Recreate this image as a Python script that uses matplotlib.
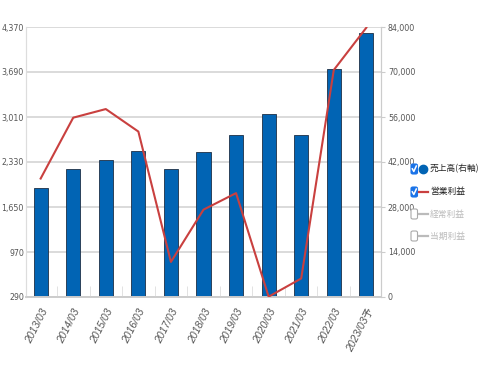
import matplotlib
matplotlib.use("Agg")
import matplotlib.pyplot as plt
from matplotlib.patches import FancyBboxPatch
from matplotlib.lines import Line2D
import numpy as np

tick_font = dict(family='DejaVu Sans', stretch='condensed')
plt.rcParams['font.family'] = ['Liberation Sans', 'Noto Sans CJK JP', 'DejaVu Sans']

categories = ["2013/03", "2014/03", "2015/03", "2016/03", "2017/03", "2018/03",
              "2019/03", "2020/03", "2021/03", "2022/03", "2023/03予"]
sales = [34000, 39700, 42600, 45500, 39700, 45100, 50400, 56800, 50400, 70900, 82000]
op_profit = [2080, 3000, 3130, 2790, 820, 1610, 1860, 295, 570, 3720, 4360]
left_ticks = [290, 970, 1650, 2330, 3010, 3690, 4370]
right_ticks = [0, 14000, 28000, 42000, 56000, 70000, 84000]
legend_labels = ["売上高(右軸)", "営業利益", "経常利益", "当期利益"]

W, H = 478, 385
fig = plt.figure(figsize=(W/100, H/100), dpi=100)
L, R, B, T = 26, 381, 297, 27
ax = fig.add_axes([L/W, 1-B/H, (R-L)/W, (B-T)/H])
ax2 = ax.twinx()

x = np.arange(len(categories))
ax2.bar(x, sales, width=0.43, color="#0164b4", edgecolor="#1d2f45", linewidth=0.6, zorder=2)
ax.plot(x, op_profit, color="#c9403f", linewidth=1.5, zorder=5)
ax.set_zorder(ax2.get_zorder() + 1)
ax.patch.set_visible(False)

ax.set_xlim(-0.45, 10.45)
ax.set_ylim(left_ticks[0], left_ticks[-1])
ax2.set_ylim(right_ticks[0], right_ticks[-1])
ax.set_yticks(left_ticks)
ax.set_yticklabels([f"{v:,}" for v in left_ticks], fontsize=6.3, color="#555555", **tick_font)
ax2.set_yticks(right_ticks)
ax2.set_yticklabels([f"{v:,}" for v in right_ticks], fontsize=6.3, color="#555555", **tick_font)
ax.tick_params(axis='y', length=0, pad=1.5)
ax2.tick_params(axis='y', length=3, color="#cccccc", direction='out', pad=2)
ax2.yaxis.grid(True, color="#d4d4d4", linewidth=1.2, zorder=0)
ax2.set_axisbelow(True)

ax.set_xticks(x)
ax.set_xticklabels(categories, rotation=63, ha='right', rotation_mode='anchor',
                   fontsize=7.5, color="#555555", style='italic',
                   family=['Liberation Sans', 'Noto Sans CJK JP'])
ax.tick_params(axis='x', length=0, pad=7)
ax.set_xticks(np.arange(len(categories) - 1) + 0.5, minor=True)
ax.tick_params(axis='x', which='minor', length=8, direction='in', color="#dddddd")

for a in (ax, ax2):
    a.spines['top'].set_visible(False)
    a.spines['left'].set_color("#dddddd")
    a.spines['right'].set_color("#cccccc")
    a.spines['bottom'].set_color("#cccccc")
    a.spines['bottom'].set_linewidth(1.2)

def px(xp, yp):
    return xp / W, 1 - yp / H

ys = [169, 192, 214, 236]
for i, (lab, y) in enumerate(zip(legend_labels, ys)):
    active = i < 2
    cx, cy = px(411, y)
    box = FancyBboxPatch((cx, cy - 5/H), 6.5/W, 10/H, boxstyle="round,pad=0,rounding_size=0.004",
                         transform=fig.transFigure,
                         facecolor="#1a73e8" if active else "white",
                         edgecolor="#1a73e8" if active else "#aaaaaa", linewidth=0.8)
    fig.add_artist(box)
    if active:
        fig.add_artist(Line2D([cx + 1.3/W, cx + 2.8/W, cx + 5.3/W],
                              [cy + 0.2/H, cy - 2.5/H, cy + 3/H],
                              color="white", linewidth=1.1, transform=fig.transFigure))
    mx = px(423, y)[0]
    if i == 0:
        fig.add_artist(Line2D([mx], [cy], marker='o', markersize=6, color="#0164b4",
                              transform=fig.transFigure))
    else:
        fig.add_artist(Line2D([mx - 4.5/W, mx + 4.5/W], [cy, cy],
                              color="#c9403f" if active else "#bbbbbb", linewidth=1.6,
                              transform=fig.transFigure))
    fig.text(px(430, y)[0], cy, lab, fontsize=6.3, va='center', ha='left',
             color="#222222" if active else "#bbbbbb",
             family=['Noto Sans CJK JP', 'DejaVu Sans'])

fig.savefig("out.png", dpi=100)
